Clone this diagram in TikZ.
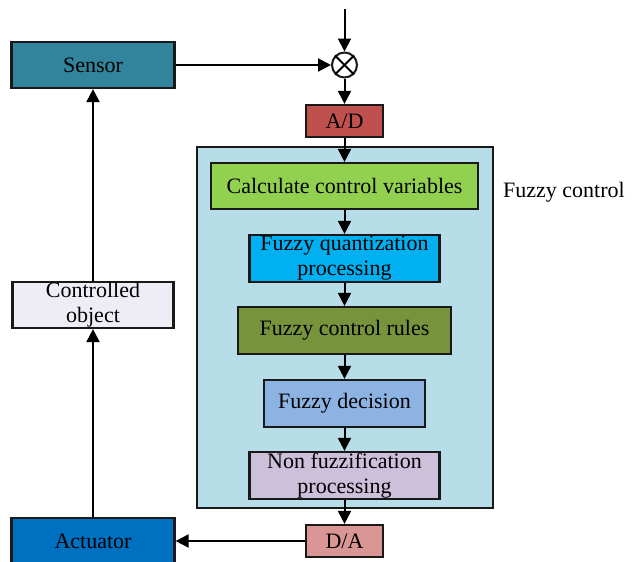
\documentclass[tikz,border=0pt]{standalone}
\usepackage{fontspec}
\setmainfont{Liberation Serif}
\usetikzlibrary{arrows.meta}

\definecolor{sensorcol}{HTML}{31849B}
\definecolor{adcol}{HTML}{C0504D}
\definecolor{fuzzybg}{HTML}{B7DDE8}
\definecolor{calccol}{HTML}{92D050}
\definecolor{quantcol}{HTML}{00B0F0}
\definecolor{rulescol}{HTML}{77933C}
\definecolor{decicol}{HTML}{8DB3E2}
\definecolor{nonfcol}{HTML}{CCC0DA}
\definecolor{dacol}{HTML}{D99694}
\definecolor{actcol}{HTML}{0070C0}
\definecolor{objcol}{HTML}{EEECF4}

\begin{document}
\begin{tikzpicture}[x=1pt, y=-1pt,
    block/.style={draw=black!90, line width=2.2pt, inner sep=0pt, align=center,
      font=\fontsize{22}{25}\selectfont},
    flow/.style={line width=2pt, -{Triangle[length=13pt,width=13pt]}}]

    \useasboundingbox (0,0) rectangle (638,562);

    % Define the big fuzzy control frame
    \node[draw=black!90, line width=2.2pt, fill=fuzzybg, minimum width=296pt,
      minimum height=361pt, inner sep=0pt] (FuzzyBox) at (345,327.5) {};
    \node[anchor=west, inner sep=0pt, font=\fontsize{22}{25}\selectfont] (FuzzyLabel) at (503,192) {Fuzzy control};

    % Define the blocks
    \node[block, fill=sensorcol, minimum width=163pt, minimum height=46pt] (Sensor) at (93,65) {Sensor};
    \node[block, fill=objcol, minimum width=161pt, minimum height=46pt] (Object) at (93,305) {Controlled\\object};
    \node[block, fill=actcol, minimum width=163pt, minimum height=46pt] (Actuator) at (93,541) {Actuator};

    \node[block, fill=adcol, minimum width=77pt, minimum height=32pt] (AD) at (344.5,121) {A/D};
    \node[block, fill=calccol, minimum width=267pt, minimum height=46pt] (Calc) at (344.5,186) {Calculate control variables};
    \node[block, fill=quantcol, minimum width=190pt, minimum height=47pt] (Quant) at (344.5,258.5) {Fuzzy quantization\\processing};
    \node[block, fill=rulescol, minimum width=213pt, minimum height=47pt] (Rules) at (344.5,330.5) {Fuzzy control rules};
    \node[block, fill=decicol, minimum width=161pt, minimum height=47pt] (Decision) at (344.5,403.5) {Fuzzy decision};
    \node[block, fill=nonfcol, minimum width=190pt, minimum height=47pt] (NonFuzz) at (344.5,475.5) {Non fuzzification\\processing};
    \node[block, fill=dacol, minimum width=77pt, minimum height=32pt] (DA) at (344.5,541) {D/A};

    % Draw the comparator
    \node[draw=black!90, line width=2pt, fill=white, circle, minimum size=25pt, inner sep=0pt] (Sum) at (344.5,65) {};
    \draw[line width=2pt] (Sum.north west) -- (Sum.south east);
    \draw[line width=2pt] (Sum.north east) -- (Sum.south west);
    \coordinate (Input) at (344.5,9);

    % Draw the forward path
    \draw[flow] (Input) -- (Sum.north);
    \draw[flow] (Sensor.east) -- (Sum.west);
    \draw[flow] (Sum.south) -- (AD.north);
    \draw[flow] (AD.south) -- (Calc.north);
    \draw[flow] (Calc.south) -- (Quant.north);
    \draw[flow] (Quant.south) -- (Rules.north);
    \draw[flow] (Rules.south) -- (Decision.north);
    \draw[flow] (Decision.south) -- (NonFuzz.north);
    \draw[flow] (NonFuzz.south) -- (DA.north);

    % Draw the feedback path
    \draw[flow] (DA.west) -- (Actuator.east);
    \draw[flow] (Actuator.north) -- (Object.south);
    \draw[flow] (Object.north) -- (Sensor.south);

\end{tikzpicture}
\end{document}
